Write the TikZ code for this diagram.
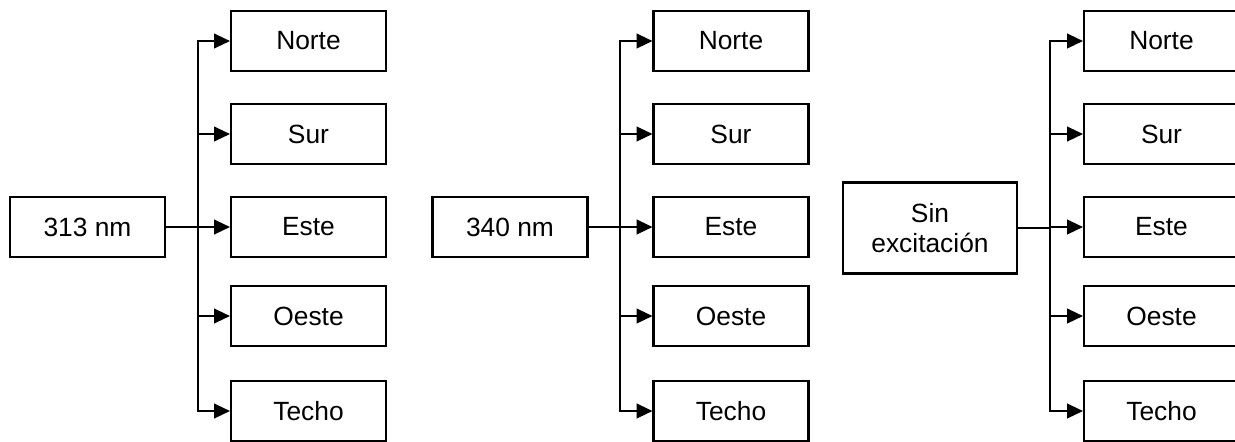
\documentclass[tikz,border=0pt]{standalone}
\usepackage{fontspec}
\setmainfont{Liberation Sans}
\usetikzlibrary{arrows.meta}
\tikzset{
  caja/.style={draw, line width=0.045cm, minimum width=3.1cm, minimum height=1.19cm,
    inner sep=0pt, font=\fontsize{15}{17.5}\selectfont},
  flecha/.style={-{Triangle[length=9pt,width=8.5pt]}, line width=0.022cm},
}
\begin{document}
\begin{tikzpicture}[x=0.02cm,y=-0.02cm]
  \useasboundingbox (0,0) rectangle (1235,441);
  \node[caja] (fuente1) at (87.5,227) {313 nm};
  \node[caja] (fuente2) at (510,227) {340 nm};
  \node[caja, minimum width=3.48cm, minimum height=1.82cm, align=center] (fuente3) at (930,228) {Sin\\excitación};
  \foreach \g/\x/\b in {1/308.5/198, 2/731/620, 3/1161.5/1050}{
    \node[caja] (norte\g) at (\x,41) {Norte};
    \node[caja] (sur\g) at (\x,134) {Sur};
    \node[caja] (este\g) at (\x,227) {Este};
    \node[caja] (oeste\g) at (\x,316) {Oeste};
    \node[caja] (techo\g) at (\x,411) {Techo};
    \coordinate (bus\g) at (\b,227);
    \draw[line width=0.045cm] (fuente\g.east) -- (fuente\g.east -| bus\g);
    \foreach \d in {norte,sur,este,oeste,techo}
      \draw[flecha] (bus\g) |- (\d\g.west);
  }
\end{tikzpicture}
\end{document}
